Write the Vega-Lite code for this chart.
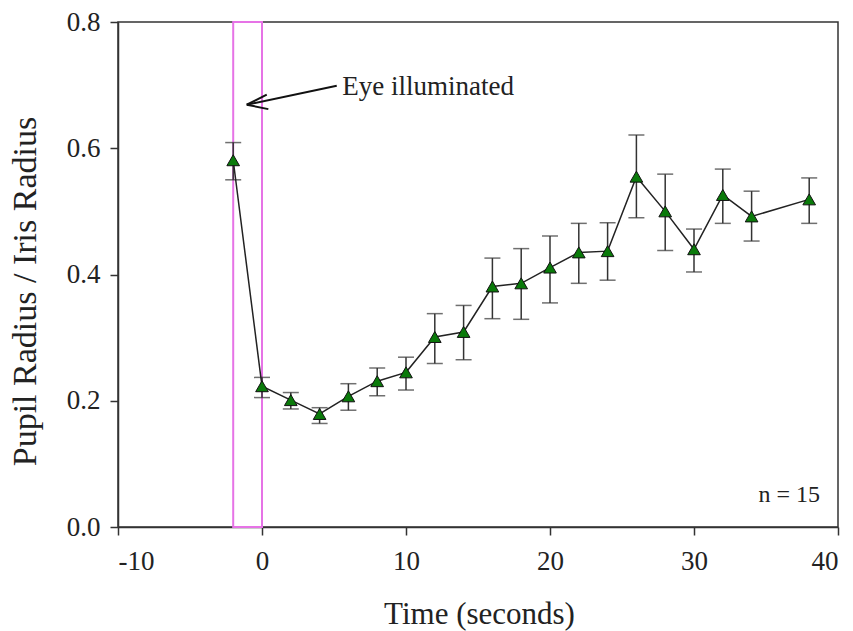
{
  "$schema": "https://vega.github.io/schema/vega-lite/v6.json",
  "width": 720,
  "height": 505,
  "autosize": {"type": "none"},
  "padding": {"left": 118, "top": 22, "right": 15, "bottom": 104},
  "background": "white",
  "config": {
    "view": {"stroke": "#333333", "strokeWidth": 1.5},
    "font": "Liberation Serif",
    "axis": {
      "grid": false,
      "domainColor": "#333333",
      "domainWidth": 1.5,
      "tickColor": "#333333",
      "tickWidth": 1.5,
      "tickSize": 8,
      "labelFont": "Liberation Serif",
      "labelFontSize": 27,
      "labelColor": "#222222",
      "titleFont": "Liberation Serif",
      "titleFontWeight": "normal",
      "titleColor": "#222222"
    }
  },
  "datasets": {
    "pts": [
      {"t": -2, "mean": 0.581, "lo": 0.550, "hi": 0.609},
      {"t": 0, "mean": 0.223, "lo": 0.205, "hi": 0.237},
      {"t": 2, "mean": 0.201, "lo": 0.187, "hi": 0.213},
      {"t": 4, "mean": 0.179, "lo": 0.164, "hi": 0.189},
      {"t": 6, "mean": 0.207, "lo": 0.185, "hi": 0.227},
      {"t": 8, "mean": 0.231, "lo": 0.208, "hi": 0.252},
      {"t": 10, "mean": 0.245, "lo": 0.217, "hi": 0.269},
      {"t": 12, "mean": 0.301, "lo": 0.259, "hi": 0.338},
      {"t": 14, "mean": 0.309, "lo": 0.265, "hi": 0.351},
      {"t": 16, "mean": 0.381, "lo": 0.330, "hi": 0.426},
      {"t": 18, "mean": 0.386, "lo": 0.329, "hi": 0.441},
      {"t": 20, "mean": 0.411, "lo": 0.355, "hi": 0.461},
      {"t": 22, "mean": 0.435, "lo": 0.386, "hi": 0.481},
      {"t": 24, "mean": 0.437, "lo": 0.391, "hi": 0.482},
      {"t": 26, "mean": 0.555, "lo": 0.490, "hi": 0.621},
      {"t": 28, "mean": 0.500, "lo": 0.438, "hi": 0.559},
      {"t": 30, "mean": 0.440, "lo": 0.404, "hi": 0.472},
      {"t": 32, "mean": 0.526, "lo": 0.481, "hi": 0.567},
      {"t": 34, "mean": 0.492, "lo": 0.453, "hi": 0.532},
      {"t": 38, "mean": 0.519, "lo": 0.481, "hi": 0.553}
    ],
    "box": [{"t": -2, "t2": 0, "y": 0, "y2": 0.8}],
    "arrow": [
      {"x": 5.19, "y": 0.699, "x2": -1.06, "y2": 0.669},
      {"x": 0.33, "y": 0.685, "x2": -1.06, "y2": 0.669},
      {"x": 0.44, "y": 0.662, "x2": -1.06, "y2": 0.669}
    ],
    "label1": [{"x": 5.58, "y": 0.685, "text": "Eye illuminated"}],
    "label2": [{"x": 38.75, "y": 0.04, "text": "n = 15"}]
  },
  "layer": [
    {
      "data": {"name": "box"},
      "mark": {"type": "rect", "fill": null, "stroke": "#e673e6", "strokeWidth": 2},
      "encoding": {
        "x": {"field": "t", "type": "quantitative", "scale": {"domain": [-10, 40], "nice": false, "zero": false},
          "axis": {"values": [-10, 0, 10, 20, 30, 40], "labelExpr": "replace(datum.label, '\u2212', '-')", "labelFontSize": 27, "title": "Time (seconds)", "titleFontSize": 31, "titleX": 361, "titleY": 96, "titleBaseline": "alphabetic", "titleAlign": "center", "labelPadding": 13}},
        "x2": {"field": "t2"},
        "y": {"field": "y", "type": "quantitative", "scale": {"domain": [0, 0.8], "nice": false, "zero": false},
          "axis": {"values": [0, 0.2, 0.4, 0.6, 0.8], "format": ".1f", "labelFontSize": 27, "title": "Pupil Radius / Iris Radius", "titleFontSize": 34, "titleX": -93, "titleY": 269, "titleAngle": -90, "titleAlign": "center", "titleBaseline": "middle", "labelPadding": 10}},
        "y2": {"field": "y2"}
      }
    },
    {
      "data": {"name": "pts"},
      "mark": {"type": "rule", "color": "#333333", "strokeWidth": 1.5},
      "encoding": {
        "x": {"field": "t", "type": "quantitative"},
        "y": {"field": "lo", "type": "quantitative"},
        "y2": {"field": "hi"}
      }
    },
    {
      "data": {"name": "pts"},
      "mark": {"type": "tick", "orient": "horizontal", "color": "#333333", "size": 16, "thickness": 1.5},
      "encoding": {
        "x": {"field": "t", "type": "quantitative"},
        "y": {"field": "lo", "type": "quantitative"}
      }
    },
    {
      "data": {"name": "pts"},
      "mark": {"type": "tick", "orient": "horizontal", "color": "#333333", "size": 16, "thickness": 1.5},
      "encoding": {
        "x": {"field": "t", "type": "quantitative"},
        "y": {"field": "hi", "type": "quantitative"}
      }
    },
    {
      "data": {"name": "pts"},
      "mark": {"type": "line", "color": "#222222", "strokeWidth": 1.5},
      "encoding": {
        "x": {"field": "t", "type": "quantitative"},
        "y": {"field": "mean", "type": "quantitative"}
      }
    },
    {
      "data": {"name": "pts"},
      "mark": {"type": "point", "shape": "triangle-up", "filled": true, "fill": "#0a7a0a", "stroke": "#111111", "strokeWidth": 1, "size": 160, "opacity": 1},
      "encoding": {
        "x": {"field": "t", "type": "quantitative"},
        "y": {"field": "mean", "type": "quantitative"}
      }
    },
    {
      "data": {"name": "arrow"},
      "mark": {"type": "rule", "color": "#111111", "strokeWidth": 2},
      "encoding": {
        "x": {"field": "x", "type": "quantitative"},
        "y": {"field": "y", "type": "quantitative"},
        "x2": {"field": "x2"},
        "y2": {"field": "y2"}
      }
    },
    {
      "data": {"name": "label1"},
      "mark": {"type": "text", "align": "left", "baseline": "alphabetic", "fontSize": 27, "font": "Liberation Serif", "color": "#222222"},
      "encoding": {
        "x": {"field": "x", "type": "quantitative"},
        "y": {"field": "y", "type": "quantitative"},
        "text": {"field": "text"}
      }
    },
    {
      "data": {"name": "label2"},
      "mark": {"type": "text", "align": "right", "baseline": "alphabetic", "fontSize": 24, "font": "Liberation Serif", "color": "#222222"},
      "encoding": {
        "x": {"field": "x", "type": "quantitative"},
        "y": {"field": "y", "type": "quantitative"},
        "text": {"field": "text"}
      }
    }
  ]
}
